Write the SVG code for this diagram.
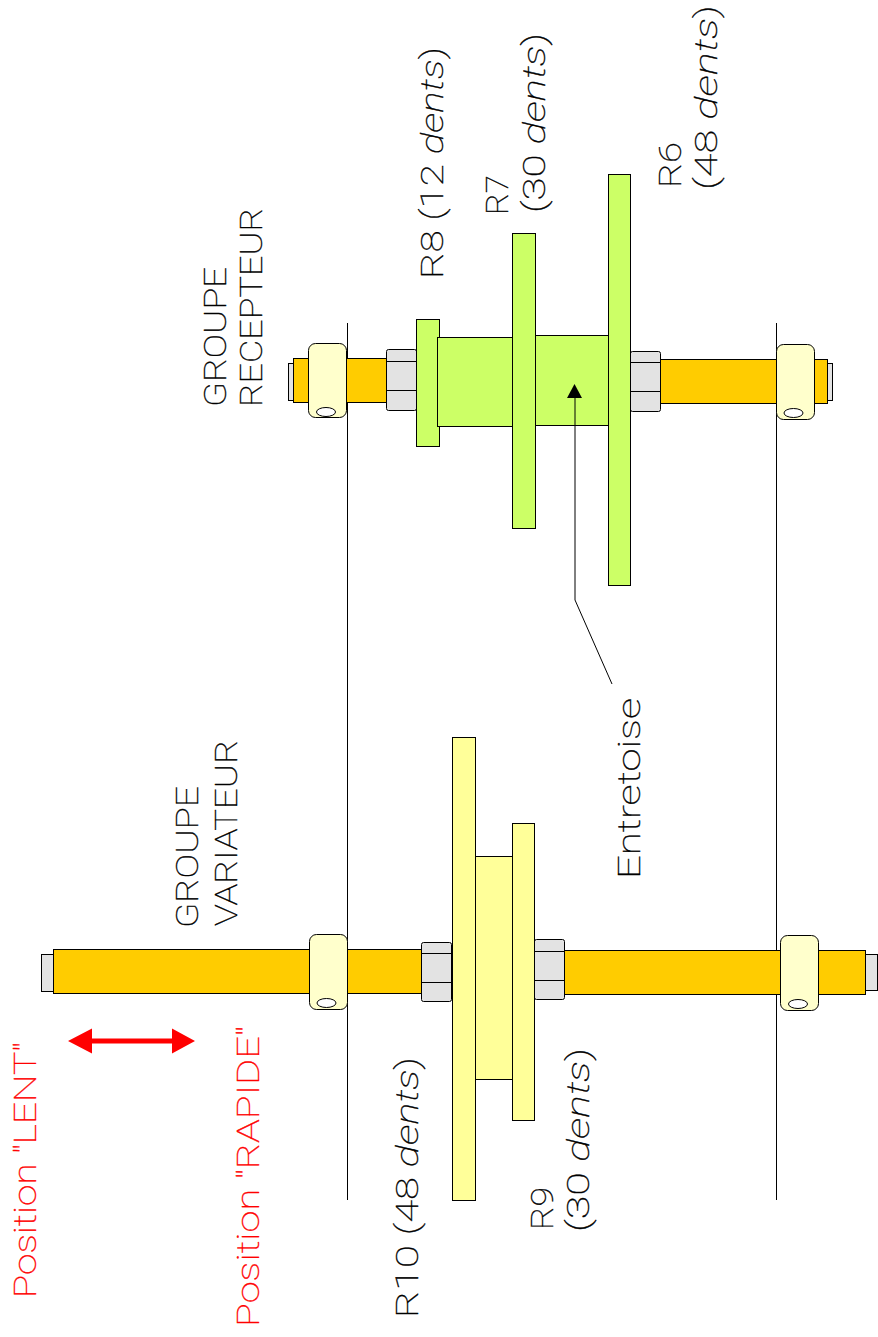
<svg xmlns="http://www.w3.org/2000/svg" width="878" height="1337" viewBox="0 0 878 1337">
<style>
.t{font-family:Roboto,"Liberation Sans",sans-serif;font-weight:100;font-size:32px;fill:#000;stroke:#000;stroke-width:.35}
.r{fill:#f00;stroke:#f00}
.i{font-style:italic}
.s{fill:#fc0;stroke:#000;stroke-width:1}
.g{fill:#e3e3e3;stroke:#000;stroke-width:1}
.c{fill:#ffc;stroke:#000;stroke-width:1}
.h{fill:#fff;stroke:#000;stroke-width:1}
.v{fill:#cf6;stroke:#000;stroke-width:1}
.y{fill:#ff9;stroke:#000;stroke-width:1}
.l{fill:none;stroke:#000;stroke-width:1}
</style>
<g id="frame-lines">
<path class="l" d="M347.5 323V1200M776.5 323V1200"/>
</g>
<g id="receiver-group">
<rect class="g" x="288.5" y="363.500" width="5" height="37"/>
<rect class="s" x="293.5" y="358.500" width="94" height="44"/>
<rect class="s" x="660.500" y="359.500" width="167" height="44"/>
<rect class="g" x="827.500" y="363.500" width="5" height="37"/>
<rect class="c" x="308.500" y="343.500" width="38" height="74" rx="7"/>
<ellipse class="h" cx="326" cy="412" rx="9.500" ry="4.500"/>
<rect class="c" x="776.500" y="344.500" width="38" height="75" rx="7"/>
<ellipse class="h" cx="793.500" cy="413" rx="9.500" ry="4.500"/>
<rect class="g" x="386.500" y="349.500" width="30" height="61" rx="2"/>
<path class="l" d="M386.500 361.500H416.500M386.500 390.500H416.500"/>
<rect class="g" x="630.500" y="351.500" width="30" height="60" rx="2"/>
<path class="l" d="M630.500 362.500H660.500M630.500 391.500H660.500"/>
<rect class="v" id="R8" x="416.500" y="319.500" width="23" height="127"/>
<rect class="v" x="437.500" y="337.500" width="75" height="89"/>
<rect class="v" x="535.500" y="335.500" width="73" height="90"/>
<rect class="v" id="R7" x="512.500" y="233.500" width="23" height="295"/>
<rect class="v" id="R6" x="608.500" y="174.500" width="22" height="411"/>
</g>
<g id="variator-group">
<rect class="g" x="41.500" y="954.500" width="12" height="37"/>
<rect class="s" x="53.500" y="949.500" width="369" height="44"/>
<rect class="s" x="563.500" y="950.500" width="302" height="44"/>
<rect class="g" x="865.500" y="954.500" width="12" height="36"/>
<rect class="c" x="309.500" y="934.500" width="38" height="75" rx="7"/>
<ellipse class="h" cx="326.500" cy="1003" rx="9.500" ry="4.500"/>
<rect class="c" x="780.500" y="935.500" width="38" height="75" rx="7"/>
<ellipse class="h" cx="798" cy="1004" rx="9.500" ry="4.500"/>
<rect class="g" x="421.500" y="942.500" width="30" height="59" rx="2"/>
<path class="l" d="M421.500 953.500H451.500M421.500 982.500H451.500"/>
<rect class="g" x="534.500" y="939.500" width="30" height="60" rx="2"/>
<path class="l" d="M534.500 951.500H564.500M534.500 980.500H564.500"/>
<rect class="y" x="475.500" y="856.500" width="37" height="223"/>
<rect class="y" id="R10" x="452.500" y="737.500" width="23" height="463"/>
<rect class="y" id="R9" x="512.500" y="823.500" width="22" height="297"/>
</g>
<g id="connectors">
<path class="l" d="M612 684L575 600V396"/>
<path d="M574.500 384L582 398H567Z" fill="#000"/>
<path d="M90 1041H174" stroke="#f00" stroke-width="5" fill="none"/>
<path d="M68 1041L92 1028.500V1053.500ZM195 1041L172 1028.500V1053.500Z" fill="#f00"/>
</g>
<g id="labels">
<text class="t" transform="translate(226 407) rotate(-90)" textLength="140" lengthAdjust="spacingAndGlyphs">GROUPE</text>
<text class="t" transform="translate(262 407) rotate(-90)" textLength="199" lengthAdjust="spacingAndGlyphs">RECEPTEUR</text>
<text class="t" transform="translate(198 928) rotate(-90)" textLength="142" lengthAdjust="spacingAndGlyphs">GROUPE</text>
<text class="t" transform="translate(237 926) rotate(-90)" textLength="186" lengthAdjust="spacingAndGlyphs">VARIATEUR</text>
<text class="t" transform="translate(443 279) rotate(-90)" textLength="232" lengthAdjust="spacingAndGlyphs">R8 (12 <tspan class="i">dents</tspan>)</text>
<text class="t" transform="translate(508 215) rotate(-90)" textLength="40" lengthAdjust="spacingAndGlyphs">R7</text>
<text class="t" transform="translate(545 213) rotate(-90)" textLength="180" lengthAdjust="spacingAndGlyphs">(30 <tspan class="i">dents</tspan>)</text>
<text class="t" transform="translate(681 188) rotate(-90)" textLength="46" lengthAdjust="spacingAndGlyphs">R6</text>
<text class="t" transform="translate(717 190) rotate(-90)" textLength="185" lengthAdjust="spacingAndGlyphs">(48 <tspan class="i">dents</tspan>)</text>
<text class="t" transform="translate(418 1318) rotate(-90)" textLength="261" lengthAdjust="spacingAndGlyphs">R10 (48 <tspan class="i">dents</tspan>)</text>
<text class="t" transform="translate(553 1230) rotate(-90)" textLength="43" lengthAdjust="spacingAndGlyphs">R9</text>
<text class="t" transform="translate(589 1232) rotate(-90)" textLength="184" lengthAdjust="spacingAndGlyphs">(30 <tspan class="i">dents</tspan>)</text>
<text class="t" transform="translate(640 879) rotate(-90)" textLength="181" lengthAdjust="spacingAndGlyphs">Entretoise</text>
<text class="t r" transform="translate(36 1298) rotate(-90)" textLength="256" lengthAdjust="spacingAndGlyphs">Position "LENT"</text>
<text class="t r" transform="translate(259 1327) rotate(-90)" textLength="301" lengthAdjust="spacingAndGlyphs">Position "RAPIDE"</text>
</g>
</svg>
